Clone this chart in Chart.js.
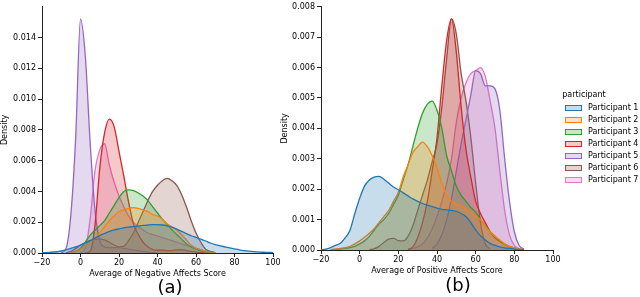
<!DOCTYPE html>
<html>
<head>
<meta charset="utf-8">
<script src="https://cdn.jsdelivr.net/npm/chart.js@4.4.1/dist/chart.umd.min.js"></script>
<style>
  body { margin: 0; width: 640px; height: 297px; overflow: hidden; position: relative; background: #fff; font-family: "DejaVu Sans", sans-serif; color: #000; }
  .wrap { position: absolute; top: 0; width: 285px; height: 297px; }
  #wrapA { left: 0; }
  #wrapB { left: 280px; }
  .sub { position: absolute; font-size: 18px; line-height: 20px; transform: translateX(-50%); }
  .legend { position: absolute; left: 560px; top: 90px; font-size: 8px; }
  .legend .title { position: absolute; left: 0; width: 48px; text-align: center; top: 0; }
  .legend .item { position: absolute; left: 5px; white-space: nowrap; height: 10px; line-height: 10px; }
  .legend .patch { display: inline-block; width: 15px; height: 4px; border: 1px solid; vertical-align: middle; margin-right: 6px; }
</style>
</head>
<body>
<div class="wrap" id="wrapA"><canvas id="chart-neg" width="285" height="297"></canvas></div>
<div class="wrap" id="wrapB"><canvas id="chart-pos" width="285" height="297"></canvas></div>
<div class="sub" style="left:170px; top:277px;">(a)</div>
<div class="sub" style="left:458px; top:275px;">(b)</div>
<div class="legend" id="legend"></div>

<script>
// sampling grid of the density curves (score axis)
var xGrid = [-20, -17.5, -15, -12.5, -10, -7.5, -5, -2.5, 0, 2.5, 5, 7.5, 10, 12.5, 15, 17.5,
  20, 22.5, 25, 27.5, 30, 32.5, 35, 37.5, 40, 42.5, 45, 47.5, 50, 52.5, 55, 57.5,
  60, 62.5, 65, 67.5, 70, 72.5, 75, 77.5, 80, 82.5, 85, 87.5, 90, 92.5, 95, 97.5, 100];

var participants = ['Participant 1', 'Participant 2', 'Participant 3', 'Participant 4',
  'Participant 5', 'Participant 6', 'Participant 7'];
var colors = ['#1f77b4', '#ff7f0e', '#2ca02c', '#d62728', '#9467bd', '#8c564b', '#e377c2'];

var xTicks = [-20, 0, 20, 40, 60, 80, 100];
var yTicksNeg = [0, 0.002, 0.004, 0.006, 0.008, 0.010, 0.012, 0.014];
var yTicksPos = [0, 0.001, 0.002, 0.003, 0.004, 0.005, 0.006, 0.007, 0.008];

var _ = null;

// (a) Average of Negative Affects Score
var negP1 = [0.00002, 0.00003, 0.00005, 0.00008, 0.00013, 0.0002, 0.0003, 0.0004, 0.00052, 0.00066, 0.0008, 0.00097, 0.00113, 0.00127, 0.0014, 0.0015,
  0.00157, 0.00163, 0.00168, 0.00172, 0.00176, 0.00179, 0.00182, 0.00184, 0.00184, 0.00182, 0.00177, 0.00168, 0.00155, 0.0014, 0.00126, 0.00112,
  0.00101, 0.0009, 0.00078, 0.00065, 0.00055, 0.00047, 0.0004, 0.00033, 0.00027, 0.00021, 0.00016, 0.00012, 0.00009, 0.00007, 0.00005, 0.00004, 0.00003];
var negP2 = [_, _, _, _, _, _, 0.00002, 0.0001, 0.00025, 0.0005, 0.0007, 0.00095, 0.0013, 0.0017, 0.0021, 0.0024,
  0.0027, 0.0028, 0.0029, 0.00295, 0.0029, 0.0028, 0.0027, 0.0025, 0.0024, 0.0022, 0.0019, 0.0017, 0.0015, 0.0012, 0.00085, 0.0005,
  0.0003, 0.0002, 0.0001, 0.00005, 0.00002, _, _, _, _, _, _, _, _, _, _, _, _];
var negP3 = [_, _, _, _, _, _, 0.00003, 0.0001, 0.0003, 0.0007, 0.00115, 0.00147, 0.00178, 0.0021, 0.0026, 0.0031,
  0.0036, 0.004, 0.0041, 0.00405, 0.0039, 0.0037, 0.0034, 0.003, 0.0026, 0.0022, 0.00185, 0.0015, 0.0012, 0.0009, 0.0006, 0.0004,
  0.00025, 0.00014, 0.00007, 0.00003, 0.00001, _, _, _, _, _, _, _, _, _, _, _, _];
var negP4 = [_, _, _, _, _, _, _, _, _, 0.00001, 0.0001, 0.0018, 0.0055, 0.0078, 0.0087, 0.0082,
  0.0066, 0.005, 0.0033, 0.0019, 0.0012, 0.0007, 0.0004, 0.00022, 0.00018, 0.00018, 0.00016, 0.00016, 0.0002, 0.00022, 0.00015, 0.0001,
  0.00006, 0.00003, 0.00001, _, _, _, _, _, _, _, _, _, _, _, _, _, _];
var negP5 = [_, _, _, _, 0.00001, 0.0003, 0.0025, 0.0075, 0.0152, 0.0128, 0.0072, 0.0028, 0.0008, 0.0004, 0.00035, 0.00035,
  0.00035, 0.0003, 0.00025, 0.0002, 0.00015, 0.0001, 0.00006, 0.00003, 0.00001, _, _, _, _, _, _, _,
  _, _, _, _, _, _, _, _, _, _, _, _, _, _, _, _, _];
var negP6 = [_, _, _, _, _, 0.00002, 0.0001, 0.0003, 0.0005, 0.00068, 0.0008, 0.00088, 0.0009, 0.00085, 0.0007, 0.00052,
  0.0004, 0.00045, 0.0008, 0.0013, 0.002, 0.0027, 0.0034, 0.004, 0.0044, 0.0047, 0.00485, 0.0047, 0.0044, 0.0038, 0.003, 0.0021,
  0.0013, 0.0007, 0.00025, 0.0001, 0.00003, _, _, _, _, _, _, _, _, _, _, _, _];
var negP7 = [_, _, _, _, _, _, _, _, 0.00002, 0.0003, 0.0022, 0.0053, 0.0067, 0.0071, 0.0057, 0.0046,
  0.0037, 0.003, 0.0024, 0.002, 0.0017, 0.0015, 0.0013, 0.0012, 0.0011, 0.001, 0.0009, 0.0008, 0.0007, 0.0006, 0.0005, 0.0004,
  0.0003, 0.0002, 0.00012, 0.00006, 0.00002, _, _, _, _, _, _, _, _, _, _, _, _];

// (b) Average of Positive Affects Score
var posP1 = [0.00001, 0.00003, 0.00008, 0.00015, 0.00022, 0.0004, 0.00065, 0.0012, 0.0017, 0.0021, 0.0023, 0.0024, 0.00242, 0.00233, 0.0022, 0.00207,
  0.00198, 0.00188, 0.00178, 0.00168, 0.0016, 0.00153, 0.00148, 0.00143, 0.00138, 0.00134, 0.00132, 0.0013, 0.00127, 0.0012, 0.0011, 0.0009,
  0.00066, 0.00047, 0.00033, 0.00022, 0.00015, 0.0001, 0.00007, 0.00005, 0.00003, 0.00002, 0.00001, _, _, _, _, _, _];
var posP2 = [_, _, 0.00001, 0.00003, 0.00005, 0.00008, 0.00012, 0.0002, 0.0003, 0.00042, 0.00055, 0.0007, 0.0009, 0.0011, 0.0013, 0.0016,
  0.0019, 0.0024, 0.0028, 0.0032, 0.0034, 0.00355, 0.0034, 0.0031, 0.0027, 0.0022, 0.0018, 0.0016, 0.0015, 0.00145, 0.00135, 0.00125,
  0.0011, 0.001, 0.00078, 0.0006, 0.00045, 0.00033, 0.0002, 0.00012, 0.00007, 0.00003, 0.00001, _, _, _, _, _, _];
var posP3 = [_, _, 0.00001, 0.00002, 0.00003, 0.00005, 0.00008, 0.00012, 0.0002, 0.0003, 0.00045, 0.00065, 0.00085, 0.001, 0.0012, 0.0015,
  0.0018, 0.0023, 0.0028, 0.0034, 0.004, 0.0045, 0.0048, 0.0049, 0.0046, 0.004, 0.0031, 0.0026, 0.0021, 0.0018, 0.0016, 0.0014,
  0.00125, 0.001, 0.0008, 0.0006, 0.00045, 0.0003, 0.0002, 0.00012, 0.00007, 0.00003, 0.00001, _, _, _, _, _, _];
var posP4 = [_, _, _, _, _, _, _, _, _, _, _, _, _, _, _, _,
  _, _, 0.00002, 0.0001, 0.0004, 0.0009, 0.0016, 0.0026, 0.0037, 0.0054, 0.0069, 0.0076, 0.0065, 0.0047, 0.0033, 0.0024,
  0.0016, 0.0012, 0.0009, 0.0006, 0.0004, 0.00028, 0.00018, 0.0001, 0.00005, 0.00002, _, _, _, _, _, _, _];
var posP5 = [_, _, _, _, _, _, _, _, _, _, _, _, _, _, _, _,
  _, _, _, _, _, _, _, 0.00005, 0.0002, 0.0005, 0.001, 0.0017, 0.0026, 0.0035, 0.0043, 0.0051,
  0.0059, 0.0058, 0.0054, 0.0054, 0.0053, 0.0046, 0.003, 0.0016, 0.0006, 0.00015, 0.00002, _, _, _, _, _, _];
var posP6 = [_, _, _, _, _, _, _, _, _, _, 0.00001, 0.00004, 0.00012, 0.00025, 0.00036, 0.00038,
  0.00031, 0.0003, 0.00045, 0.0008, 0.0013, 0.0018, 0.0023, 0.0029, 0.0035, 0.0047, 0.0063, 0.0076, 0.0071, 0.0058, 0.0049, 0.0037,
  0.0022, 0.0009, 0.0002, 0.00004, _, _, _, _, _, _, _, _, _, _, _, _, _];
var posP7 = [_, _, _, _, _, _, _, _, _, _, _, _, _, _, _, _,
  _, _, 0.00002, 0.00005, 0.0001, 0.0002, 0.0004, 0.0007, 0.0011, 0.0016, 0.0022, 0.003, 0.0042, 0.005, 0.0055, 0.0058,
  0.0059, 0.006, 0.0057, 0.0049, 0.004, 0.0026, 0.0013, 0.0005, 0.00015, 0.00003, _, _, _, _, _, _, _];

var negSeries = [negP1, negP2, negP3, negP4, negP5, negP6, negP7];
var posSeries = [posP1, posP2, posP3, posP4, posP5, posP6, posP7];

function hexToRgba(hex, a) {
  var n = parseInt(hex.slice(1), 16);
  return 'rgba(' + (n >> 16) + ',' + ((n >> 8) & 255) + ',' + (n & 255) + ',' + a + ')';
}

function fmtX(v) { return v < 0 ? '\u2212' + Math.abs(v) : String(v); }

function buildDatasets(series) {
  return series.map(function(arr, i) {
    return {
      label: participants[i],
      data: xGrid.map(function(x, j) { return { x: x, y: arr[j] }; }),
      borderColor: colors[i],
      backgroundColor: hexToRgba(colors[i], 0.25),
      borderWidth: 1.3,
      fill: 'origin',
      pointRadius: 0,
      cubicInterpolationMode: 'monotone',
      spanGaps: false
    };
  });
}

var tickFont = { family: 'DejaVu Sans', size: 8 };

function makeChart(id, series, xTitle, yMax, yTicks, pad) {
  return new Chart(document.getElementById(id), {
    type: 'line',
    data: { datasets: buildDatasets(series) },
    options: {
      responsive: false,
      animation: false,
      devicePixelRatio: 1,
      layout: { padding: pad },
      plugins: { legend: { display: false }, tooltip: { enabled: false } },
      scales: {
        x: {
          type: 'linear', min: -20, max: 100,
          afterBuildTicks: function(s) { s.ticks = xTicks.map(function(v) { return { value: v }; }); },
          afterFit: function(s) { s.height = 30; },
          ticks: { font: tickFont, color: '#000', padding: 1, maxRotation: 0, callback: fmtX },
          grid: { drawOnChartArea: false, drawTicks: true, tickLength: 4, color: '#222' },
          border: { display: true, color: '#222', width: 1 },
          title: { display: true, text: xTitle, font: tickFont, color: '#000', padding: { top: 2, bottom: 4 } }
        },
        y: {
          min: 0, max: yMax,
          afterBuildTicks: function(s) { s.ticks = yTicks.map(function(v) { return { value: v }; }); },
          afterFit: function(s) { s.width = pad.left0; },
          ticks: { font: tickFont, color: '#000', padding: 2, callback: function(v) { return v.toFixed(3); } },
          grid: { drawOnChartArea: false, drawTicks: true, tickLength: 4, color: '#222' },
          border: { display: true, color: '#222', width: 1 },
          title: { display: true, text: 'Density', font: tickFont, color: '#000', padding: { top: 0, bottom: 2 } }
        }
      }
    }
  });
}

var padA = { left: 0, right: 12, top: 3, bottom: 14 };
padA.left0 = 42;
var padB = { left: 0, right: 12, top: 4, bottom: 17 };
padB.left0 = 41;

makeChart('chart-neg', negSeries, 'Average of Negative Affects Score', 0.016, yTicksNeg, padA);
makeChart('chart-pos', posSeries, 'Average of Positive Affects Score', 0.008, yTicksPos, padB);

// legend
var legend = document.getElementById('legend');
var html = '<div class="title">participant</div>';
participants.forEach(function(name, i) {
  html += '<div class="item" style="top:' + (13 + i * 12) + 'px">' +
    '<span class="patch" style="border-color:' + colors[i] + ';background:' + hexToRgba(colors[i], 0.25) + '"></span>' +
    name + '</div>';
});
legend.innerHTML = html;
</script>
</body>
</html>
